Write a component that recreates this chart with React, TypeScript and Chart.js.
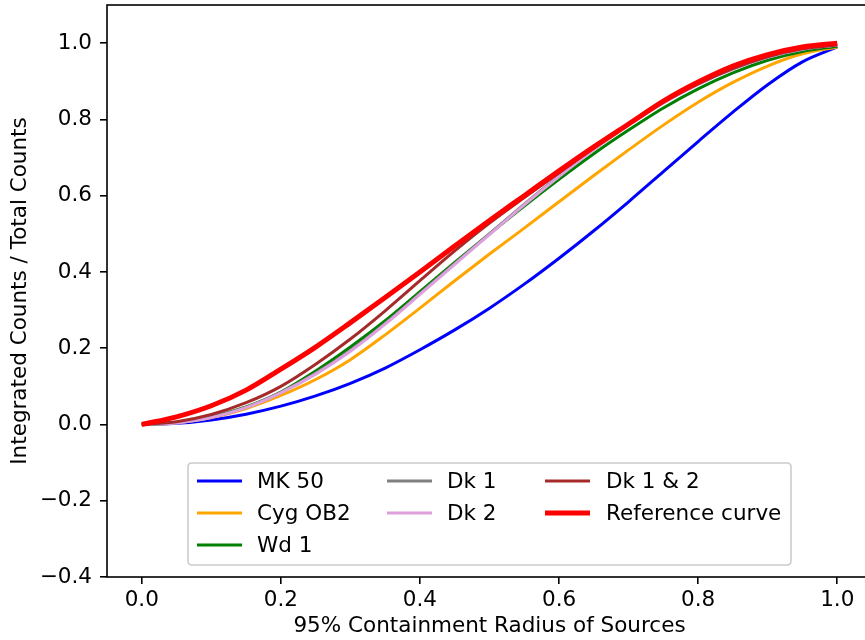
import React, { useEffect, useRef } from 'react';
import { Chart, registerables } from 'chart.js';

Chart.register(...registerables);

// ---- data ----
const xValues = [0, 0.05, 0.1, 0.15, 0.2, 0.25, 0.3, 0.35, 0.4, 0.45, 0.5, 0.55, 0.6, 0.65, 0.7, 0.75, 0.8, 0.85, 0.9, 0.95, 1.0];
const mk50 = [0, 0.003, 0.012, 0.027, 0.048, 0.075, 0.108, 0.148, 0.196, 0.248, 0.305, 0.368, 0.436, 0.508, 0.584, 0.663, 0.742, 0.819, 0.891, 0.951, 0.990];
const cygOB2 = [0, 0.005, 0.018, 0.042, 0.076, 0.118, 0.170, 0.235, 0.305, 0.377, 0.447, 0.515, 0.584, 0.653, 0.720, 0.785, 0.845, 0.897, 0.940, 0.972, 0.990];
const wd1 = [0, 0.005, 0.020, 0.046, 0.085, 0.140, 0.203, 0.272, 0.348, 0.425, 0.500, 0.573, 0.643, 0.710, 0.772, 0.830, 0.880, 0.922, 0.955, 0.978, 0.992];
const dk1 = [0, 0.004, 0.019, 0.045, 0.084, 0.134, 0.194, 0.265, 0.343, 0.422, 0.500, 0.578, 0.652, 0.722, 0.786, 0.844, 0.893, 0.933, 0.964, 0.984, 0.995];
const dk2 = [0, 0.004, 0.018, 0.044, 0.083, 0.132, 0.192, 0.263, 0.341, 0.420, 0.498, 0.576, 0.650, 0.720, 0.785, 0.843, 0.892, 0.932, 0.963, 0.984, 0.995];
const dk12 = [0, 0.007, 0.026, 0.057, 0.100, 0.158, 0.224, 0.298, 0.377, 0.455, 0.528, 0.595, 0.660, 0.725, 0.787, 0.845, 0.893, 0.933, 0.964, 0.985, 0.995];
const reference = [0, 0.020, 0.049, 0.090, 0.145, 0.203, 0.267, 0.333, 0.400, 0.468, 0.535, 0.600, 0.665, 0.728, 0.788, 0.848, 0.898, 0.940, 0.970, 0.990, 1.000];

const seriesNames = ['MK 50', 'Cyg OB2', 'Wd 1', 'Dk 1', 'Dk 2', 'Dk 1 & 2', 'Reference curve'];
const xTicks = [0, 0.2, 0.4, 0.6, 0.8, 1.0];
const yTicks = [-0.4, -0.2, 0, 0.2, 0.4, 0.6, 0.8, 1.0];
const xTitle = '95% Containment Radius of Sources';
const yTitle = 'Integrated Counts / Total Counts';

const FONT = "'DejaVu Sans', sans-serif";
const FS = 21.5;

const fmt = (v: number) => (v < -1e-9 ? '\u2212' : '') + Math.abs(v).toFixed(1);

export default function App() {
  const ref = useRef<HTMLCanvasElement>(null);

  useEffect(() => {
    const canvas = ref.current!;
    const seriesValues = [mk50, cygOB2, wd1, dk1, dk2, dk12, reference];
    const colors = ['#0000ff', '#ffa500', '#008000', '#808080', '#dda0dd', '#a52a2a', '#ff0000'];
    const widths = [3, 3, 3, 3, 3, 3, 5];

    const datasets = seriesNames.map((name, i) => ({
      label: name,
      data: xValues.map((x, j) => ({ x, y: seriesValues[i][j] })),
      borderColor: colors[i],
      backgroundColor: colors[i],
      borderWidth: widths[i],
      pointRadius: 0,
      cubicInterpolationMode: 'monotone' as const,
      fill: false,
      order: seriesNames.length - i,
    }));

    const framePlugin = {
      id: 'frame',
      afterDatasetsDraw(chart: any) {
        const { ctx, chartArea } = chart;
        ctx.save();
        ctx.strokeStyle = '#000';
        ctx.lineWidth = 1.6;
        ctx.strokeRect(chartArea.left, chartArea.top, chartArea.right - chartArea.left, chartArea.bottom - chartArea.top);
        ctx.restore();
      },
    };

    const legendPlugin = {
      id: 'mplLegend',
      afterDraw(chart: any) {
        const { ctx, chartArea } = chart;
        const w = 603;
        const h = 102;
        const left = (chartArea.left + chartArea.right) / 2 - w / 2;
        const top = chartArea.bottom - 12 - h;
        ctx.save();
        ctx.beginPath();
        const r = 4;
        ctx.moveTo(left + r, top);
        ctx.lineTo(left + w - r, top);
        ctx.quadraticCurveTo(left + w, top, left + w, top + r);
        ctx.lineTo(left + w, top + h - r);
        ctx.quadraticCurveTo(left + w, top + h, left + w - r, top + h);
        ctx.lineTo(left + r, top + h);
        ctx.quadraticCurveTo(left, top + h, left, top + h - r);
        ctx.lineTo(left, top + r);
        ctx.quadraticCurveTo(left, top, left + r, top);
        ctx.closePath();
        ctx.fillStyle = 'rgba(255,255,255,0.8)';
        ctx.fill();
        ctx.strokeStyle = '#cccccc';
        ctx.lineWidth = 1.6;
        ctx.stroke();

        const cols = [
          { handle: 9, text: 69, items: [0, 1, 2] },
          { handle: 199, text: 259, items: [3, 4] },
          { handle: 357, text: 418, items: [5, 6] },
        ];
        const rows = [18, 50, 82];
        ctx.font = `${FS}px ${FONT}`;
        ctx.textBaseline = 'middle';
        ctx.textAlign = 'left';
        cols.forEach((c) => {
          c.items.forEach((idx, ri) => {
            const y = top + rows[ri];
            ctx.beginPath();
            ctx.strokeStyle = colors[idx];
            ctx.lineWidth = widths[idx];
            ctx.moveTo(left + c.handle, y);
            ctx.lineTo(left + c.handle + 45, y);
            ctx.stroke();
            ctx.fillStyle = '#000';
            ctx.fillText(seriesNames[idx], left + c.text, y + 1);
          });
        });
        ctx.restore();
      },
    };

    const chart = new Chart(canvas, {
      type: 'line',
      data: { datasets },
      options: {
        animation: false,
        responsive: false,
        devicePixelRatio: 1,
        layout: { padding: { left: 0, top: 5, right: 8, bottom: 0 } },
        plugins: { legend: { display: false }, tooltip: { enabled: false } },
        scales: {
          x: {
            type: 'linear',
            min: -0.05,
            max: 1.05,
            border: { display: false },
            grid: { drawOnChartArea: false, drawTicks: true, tickLength: 7, color: '#000', tickWidth: 1.6, lineWidth: 1.6 },
            ticks: {
              font: { family: FONT, size: FS },
              color: '#000',
              padding: 4,
              maxRotation: 0,
              autoSkip: false,
              callback: (v: any) => fmt(Number(v)),
            },
            title: { display: true, text: xTitle, font: { family: FONT, size: FS }, color: '#000', padding: { top: 0, bottom: 1 } },
            afterBuildTicks: (s: any) => { s.ticks = xTicks.map((v) => ({ value: v })); },
            afterFit: (s: any) => { s.height = 63; s.paddingLeft = 0; s.paddingRight = 0; s.paddingTop = 0; s.paddingBottom = 0; },
          },
          y: {
            type: 'linear',
            min: -0.4,
            max: 1.1,
            border: { display: false },
            grid: { drawOnChartArea: false, drawTicks: true, tickLength: 7, color: '#000', tickWidth: 1.6, lineWidth: 1.6 },
            ticks: {
              font: { family: FONT, size: FS },
              color: '#000',
              padding: 8,
              autoSkip: false,
              callback: (v: any) => fmt(Number(v)),
            },
            title: { display: true, text: yTitle, font: { family: FONT, size: FS }, color: '#000', padding: { top: 8, bottom: 0 } },
            afterBuildTicks: (s: any) => { s.ticks = yTicks.map((v) => ({ value: v })); },
            afterFit: (s: any) => { s.width = 107; s.paddingLeft = 0; s.paddingRight = 0; s.paddingTop = 0; s.paddingBottom = 0; },
          },
        },
      },
      plugins: [framePlugin, legendPlugin],
    } as any);

    return () => chart.destroy();
  }, []);

  return (
    <div style={{ position: 'fixed', left: 0, top: 0, width: 865, height: 640, overflow: 'hidden', background: '#fff' }}>
      <canvas ref={ref} width={880} height={640} style={{ display: 'block', width: 880, height: 640 }} />
    </div>
  );
}
